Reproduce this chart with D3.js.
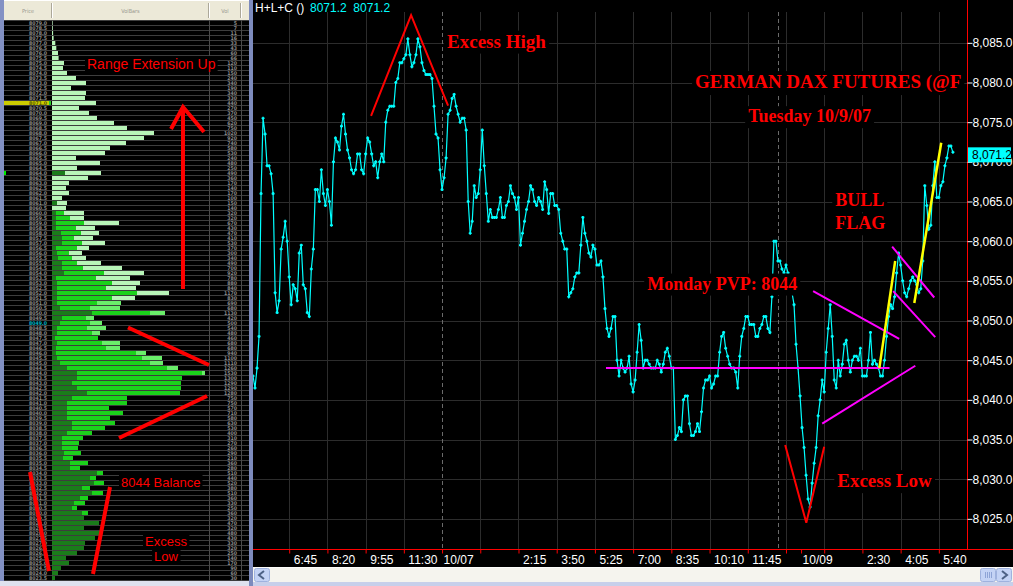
<!DOCTYPE html>
<html><head><meta charset="utf-8">
<script src="https://cdn.jsdelivr.net/npm/d3@7"></script>
<style>html,body{margin:0;padding:0;background:#000;overflow:hidden}svg{display:block}</style>
</head><body><svg id="chart" width="1013" height="586"></svg>
<script>
// ================= DATA =================
// 5-minute bar closes (bar index = array index)
const prices = [
8043,8041.5,8044,8048,8066,8075.5,8073.5,8069.5,8069.5,8068.5,
8066,8053.5,8051,8052.5,8059,8060.5,8062.5,8060,8055.5,8052,
8054.5,8054,8052.5,8058.5,8059.5,8054.5,8054,8051,8050.5,8056.5,
8059,8066.5,8066.5,8065,8069,8066,8064.5,8066.5,8065,8062,
8070,8073,8072.5,8071.5,8074.5,8076,8073.5,8071.5,8070.5,8069,
8068.5,8069,8071,8071,8069,8068.5,8071,8073,8072.5,8071,
8069.5,8070,8068,8070,8071,8070,8075,8076.5,8077,8077,
8077,8080,8080.5,8082.5,8082.5,8083,8083.5,8085.5,8083.5,8082,
8082.5,8083.5,8085.5,8084.5,8082.5,8081.5,8081,8081,8081,8080.5,
8077,8073.5,8073,8069,8066.5,8068,8070.5,8076,8076.5,8078,
8078.5,8077,8076,8075,8075.5,8075.5,8074,8065,8061,8062.5,
8067,8065.5,8066,8069,8074,8069.5,8066,8062.5,8064,8063,
8063,8063,8064,8065.5,8063,8063,8064.5,8065,8067,8066,
8065.5,8064,8065.5,8059.5,8061,8062.5,8064,8065,8067,8066.5,
8065,8064.5,8065.5,8065,8064,8067.5,8066.5,8063.5,8066,8066,
8064.5,8064.5,8064,8061,8060,8059,8059,8053,8053.5,8054,
8055.5,8056,8056,8059.5,8063,8061,8060,8058.5,8058,8059.5,
8059,8057,8057,8057.5,8055.5,8051.5,8049,8048,8049,8050.5,
8050.5,8045,8043,8045,8044,8043.5,8044,8045.5,8042,8041,
8042.5,8046,8049.5,8047.5,8044,8045,8045,8044.5,8044,8044,
8044,8045,8044.5,8043.5,8044.5,8046,8046.5,8045.5,8044,8044,
8035,8035.5,8036.5,8036,8040,8040.5,8040.5,8037,8035.5,8035.5,
8036,8037,8036,8038.5,8041.5,8042.5,8042.5,8043,8041.5,8042,
8043,8043,8046,8048,8048.5,8046.5,8045.5,8044.5,8044,8044,
8043.5,8041.5,8045.5,8048,8049,8050.5,8050.5,8049.5,8049.5,8049.5,
8048,8048,8049,8049.5,8050.5,8050.5,8049,8048.5,8053,8060,
8060,8057.5,8057.5,8056.5,8056,8057,8056,8055,8053.5,8052,
8047,8044,8040.5,8036.5,8034,8030.5,8027.5,8026.5,8029.5,8032,
8034,8038,8040,8042.5,8041,8046,8049,8052,8048,8042.5,
8041.5,8045,8043,8044.5,8047,8047.5,8045,8043.5,8045,8045.5,
8045.5,8045,8046.5,8043,8043,8043,8045,8048.5,8044.5,8045,
8044.5,8044,8043,8043,8045,8048,8050.5,8052,8051.5,8053,
8056,8058.5,8057,8055,8053.5,8053,8054,8055,8055.5,8055,
8054.5,8053.5,8054,8057.5,8067,8064.5,8061.5,8062,8067,8070,
8065.5,8065.5,8067,8067.5,8069.5,8070.5,8072,8072,8071.2
];
const yTicks = [8025,8030,8035,8040,8045,8050,8055,8060,8065,8070,8075,8080,8085];
const xTickBars   = [18,37,56,75,94,113,132,151,170,189,208,227,246,265,272.5,284,303,322,341];
const xTickLabels = ["6:45","8:20","9:55","11:30","10/07","","2:15","3:50","5:25","7:00","8:35","10:10","11:45","","10/09","","2:30","4:05","5:40"];
const sessionBreaks = [94, 261];
const dateLabels = ["10/07","10/09"];

// annotation geometry in data coordinates [bar, price]
const excessHighV = [[58.7,8075.8],[78.6,8088.5],[97,8077.1]];
const excessLowV  = [[264.6,8034.3],[275.1,8024.5],[284,8034.1]];
const pvpLine     = [[175.5,8044],[316.5,8044]];
const channelUp   = [[278.5,8053.7],[321.3,8047.7]];
const channelDown = [[283,8037.0],[329.3,8044.3]];
const flagUpper   = [[317.8,8059.3],[338.7,8052.9]];
const flagLower   = [[318.3,8053.7],[339.2,8047.9]];
const pole1       = [[311.4,8044],[319.3,8057.5]];
const pole2       = [[328.8,8052.2],[342.2,8072.4]];
const noteTexts  = ["Excess High","GERMAN DAX FUTURES (@F","Tuesday 10/9/07","BULL","FLAG","Monday PVP: 8044","Excess Low"];
const noteBars   = [96.5,219.8,246.2,289.5,289.5,196,290.5];
const notePrices = [8084.4,8079.3,8075.0,8064.4,8061.5,8053.9,8029.0];

// volume profile (rows from top, 0.5 pt each), three period segments
const profileTopPrice = 8079.0, profileStep = 0.5;
const volDark = [
0,0,0,0,0,0,0,0,0,0, 0,0,0,0,0,0,0,0,0,0, 0,0,0,0,0,0,0,0,0,0,
130,0,0,0,0,0,50,0,40,40, 40,40,90,100,100,40,50,60,100,100,
120,40,50,50,50,50,50,80,400,100, 80,50,50,30,50,40,40,50,80,150,
250,250,200,250,350,200,150,150,150,150, 200,200,150,100,100,100,120,110,180,180,
450,380,420,300,400,280,220,200,300,320, 470,320,480,430,330,320,250,140,170,90,60,30];
const volGreen = [
0,0,0,0,0,0,0,0,0,0, 0,0,0,0,0,0,0,0,0,0, 0,0,0,0,0,0,0,0,0,0,
0,0,0,0,0,0,0,0,80,140, 280,200,200,120,200,210,120,140,150,210,
400,400,550,490,800,550,400,300,580,240, 300,300,350,430,450,500,800,850,900,1000,
1250,1050,1090,1040,930,550,600,420,560,430, 430,330,250,210,170,160,170,100,180,100,
60,60,100,80,110,80,110,50,60,0, 0,0,0,0,0,0,0,0,0,0,0,0];
const volPale = [
5,7,11,16,33,43,60,66,120,110, 150,240,340,190,340,330,440,270,370,450,
620,750,1020,920,740,580,530,240,480,250,
360,360,170,140,170,100,100,140,200,140, 350,190,180,190,230,120,130,140,240,390,
400,340,280,300,320,230,240,300,150,80, 120,190,80,0,180,140,100,200,130,110,
30,0,0,0,0,0,0,0,0,0, 0,0,0,0,0,0,0,0,0,0,
0,0,0,0,0,0,0,0,0,0, 0,0,0,0,0,0,0,0,0,0,0,0];
const currentRow = 16, markedRow = 60, greenDotRow = 30;
const headerLabels = ["Price","VolBars","Vol"];
// left-panel annotations in (volume, row) coordinates
const arrowShaft = [[1310,53.6],[1310,17.4]];
const arrowHead  = [[1190,21.6],[1310,17.2],[1520,22.2]];
const wedgeTop   = [[760,61.3],[1570,68.8]];
const wedgeBot   = [[670,83.4],[1550,75.0]];
const lowLeft    = [[-220,90.2],[-30,110.0]];
const lowRight   = [[580,93.2],[410,110.6]];
const profileNotes = ["Range Extension Up","8044 Balance","Excess","Low"];
const profileNoteVol = [350,690,1140,1140];
const profileNoteRow = [9.6,93.2,105,108];

// ================= DRAW =================
const svg = d3.select("#chart");
svg.append("rect").attr("width",1013).attr("height",586).attr("fill","#000");

// ---------- LEFT PANEL ----------
const nRows = volDark.length;
const rowY = d3.scaleLinear().domain([0,nRows]).range([21,21+5*nRows]);
const volX = d3.scaleLinear().domain([0,1570]).range([52,209]);
const L = svg.append("g");
L.append("rect").attr("x",0).attr("y",0).attr("width",4).attr("height",586).attr("fill","#8391c4");
L.append("rect").attr("x",4).attr("y",0).attr("width",245).attr("height",20).attr("fill","#ece9d8");
L.append("line").attr("x1",4).attr("x2",249).attr("y1",0.5).attr("y2",0.5).attr("stroke","#fff");
[volX(0),volX(1570),241].forEach(px=>{
  L.append("line").attr("x1",px-0.5).attr("x2",px-0.5).attr("y1",3).attr("y2",18).attr("stroke","#aca899");
  L.append("line").attr("x1",px+0.5).attr("x2",px+0.5).attr("y1",3).attr("y2",18).attr("stroke","#fff");
});
const headerX = [(4+volX(0))/2,(volX(0)+volX(1570))/2,(volX(1570)+241)/2];
L.selectAll("text.hdr").data(headerLabels).join("text").attr("class","hdr")
  .attr("x",(d,i)=>headerX[i]).attr("y",12.5).attr("text-anchor","middle")
  .attr("font-family","DejaVu Sans Condensed, DejaVu Sans").attr("font-size",5.5)
  .attr("fill","#9a9a90").text(d=>d);

// row separators
L.selectAll("line.row").data(d3.range(nRows+1)).join("line").attr("class","row")
  .attr("x1",4).attr("x2",249).attr("y1",k=>rowY(k)-0.5).attr("y2",k=>rowY(k)-0.5)
  .attr("stroke","#3d3d3d");
[volX(0),volX(1570),241].forEach(px=>{
  L.append("line").attr("x1",px+0.5).attr("x2",px+0.5).attr("y1",20).attr("y2",rowY(nRows))
   .attr("stroke","#4a4a4a");
});

// stacked profile bars
const segColors = ["#1a7c1a","#1bd21b","#b8f5b8"];
const lateLight = "#6aee6a";
const profileRows = d3.range(nRows).map(k=>({k,dark:volDark[k],green:volGreen[k],pale:volPale[k]}));
const stack = d3.stack().keys(["dark","green","pale"])(profileRows);
L.selectAll("g.seg").data(stack).join("g").attr("class","seg")
  .each(function(layer,i){
    d3.select(this).selectAll("rect").data(layer.filter(s=>s[1]>s[0])).join("rect")
      .attr("x",s=>volX(s[0])).attr("width",s=>volX(s[1])-volX(s[0]))
      .attr("y",s=>rowY(s.data.k)).attr("height",4)
      .attr("fill",s=>(i===2 && s.data.k>=56)?lateLight:segColors[i]);
  });

// current price row highlight
L.append("rect").attr("x",4).attr("y",rowY(currentRow)).attr("width",volX(0)-7).attr("height",4).attr("fill","#cccc00");
L.append("rect").attr("x",volX(0)-3).attr("y",rowY(currentRow)).attr("width",2).attr("height",4).attr("fill","#22cc22");
L.append("rect").attr("x",4).attr("y",rowY(greenDotRow)).attr("width",2).attr("height",4).attr("fill","#00ee00");

const fmt1 = d3.format(".1f");
L.selectAll("text.pr").data(d3.range(nRows)).join("text").attr("class","pr")
  .attr("x",47).attr("y",k=>rowY(k)+4).attr("text-anchor","end")
  .attr("font-family","DejaVu Sans Condensed, DejaVu Sans").attr("font-size",5.2).attr("font-weight","bold")
  .attr("fill",k=>k===markedRow?"#00b4c8":(k===currentRow?"#5a5a00":"#8c8c8c"))
  .text(k=>fmt1(profileTopPrice-profileStep*k));
L.selectAll("text.vo").data(profileRows).join("text").attr("class","vo")
  .attr("x",237).attr("y",d=>rowY(d.k)+4).attr("text-anchor","end")
  .attr("font-family","DejaVu Sans Condensed, DejaVu Sans").attr("font-size",5.2).attr("font-weight","bold")
  .attr("fill","#8c8c8c").text(d=>d.dark+d.green+d.pale);

// left annotations
const pl = d3.line().x(d=>volX(d[0])).y(d=>rowY(d[1]));
[arrowShaft,arrowHead,wedgeTop,wedgeBot,lowLeft,lowRight].forEach(g=>{
  L.append("path").attr("d",pl(g)).attr("fill","none").attr("stroke","#ff0000").attr("stroke-width",4).attr("stroke-linejoin","miter");
});
profileNotes.forEach((t,i)=>{
  const tx = L.append("text").attr("x",volX(profileNoteVol[i])).attr("y",rowY(profileNoteRow[i]))
    .attr("text-anchor",i>=2?"middle":"start")
    .attr("font-family","Liberation Sans, Arial").attr("font-size",i===0?14:13)
    .attr("fill","#ff0000").text(t);
  const b = tx.node().getBBox();
  L.insert("rect",()=>tx.node()).attr("x",b.x-2).attr("y",b.y).attr("width",b.width+4).attr("height",b.height).attr("fill","#000");
});

// right border of panel / bottom
L.append("rect").attr("x",0).attr("y",581).attr("width",253).attr("height",5).attr("fill","#dfe2ee");
svg.append("rect").attr("x",249).attr("y",0).attr("width",4).attr("height",586).attr("fill","#7d8bbd");

// ---------- MAIN CHART ----------
const x = d3.scaleLinear().domain([0,355]).range([253,967]);
const y = d3.scaleLinear().domain([8021.2,8090.4]).range([549,0]);
const M = svg.append("g");
svg.append("defs").append("clipPath").attr("id","plot").append("rect")
  .attr("x",253).attr("y",0).attr("width",714).attr("height",549);

const gridBars = xTickBars.filter((b,i)=>!dateLabels.includes(xTickLabels[i]));
M.selectAll("line.vg").data(gridBars).join("line").attr("class","vg")
  .attr("x1",d=>Math.round(x(d))+0.5).attr("x2",d=>Math.round(x(d))+0.5).attr("y1",12).attr("y2",549)
  .attr("stroke","#2c2c2c");
M.selectAll("line.hg").data(yTicks).join("line").attr("class","hg")
  .attr("x1",253).attr("x2",967).attr("y1",d=>Math.round(y(d))+0.5).attr("y2",d=>Math.round(y(d))+0.5)
  .attr("stroke","#2c2c2c");
M.selectAll("line.sb").data(sessionBreaks).join("line").attr("class","sb")
  .attr("x1",d=>Math.round(x(d))+0.5).attr("x2",d=>Math.round(x(d))+0.5).attr("y1",12).attr("y2",549)
  .attr("stroke","#6a6a6a").attr("stroke-dasharray","4,3");

const P = M.append("g").attr("clip-path","url(#plot)");
const series = prices.map((p,i)=>({bar:i,price:p}));
const dl = d3.line().x(d=>x(d[0])).y(d=>y(d[1]));

const line = d3.line().x(d=>x(d.bar)).y(d=>y(d.price));
P.append("path").datum(series).attr("d",line).attr("fill","none").attr("stroke","#00ffff").attr("stroke-width",1.2);
P.selectAll("path.mk").data(series).join("path").attr("class","mk")
  .attr("transform",d=>`translate(${x(d.bar)},${y(d.price)})`)
  .attr("d","M-1.5,0H1.5M0,-1.5V1.5").attr("stroke","#00ffff").attr("stroke-width",1.6);

[excessHighV,excessLowV].forEach(g=>P.append("path").attr("d",dl(g)).attr("fill","none").attr("stroke","#ff0000").attr("stroke-width",2));
[pvpLine,channelUp,channelDown,flagUpper,flagLower].forEach(g=>P.append("path").attr("d",dl(g)).attr("fill","none").attr("stroke","#ff00ff").attr("stroke-width",2));
[pole1,pole2].forEach(g=>P.append("path").attr("d",dl(g)).attr("fill","none").attr("stroke","#ffff00").attr("stroke-width",2.5));

// annotation texts on black boxes (drawn over the series)
noteTexts.forEach((t,i)=>{
  const big = (t.startsWith("Excess")||t.startsWith("GERMAN"));
  const tx = P.append("text").attr("x",x(noteBars[i])).attr("y",y(notePrices[i]))
    .attr("font-family","Liberation Serif, Times New Roman, serif").attr("font-weight","bold")
    .attr("font-size",big?19:18).attr("fill","#ff0000").text(t);
  const b = tx.node().getBBox();
  P.insert("rect",()=>tx.node()).attr("x",b.x-3).attr("y",b.y).attr("width",b.width+6).attr("height",b.height+2).attr("fill","#000");
});

// axes frame
M.append("line").attr("x1",967.5).attr("x2",967.5).attr("y1",0).attr("y2",549).attr("stroke","#ff0000");
M.append("line").attr("x1",253).attr("x2",1013).attr("y1",549.5).attr("y2",549.5).attr("stroke","#ff0000");

const yAxis = M.append("g").attr("transform","translate(967.5,0)")
  .call(d3.axisRight(y).tickValues(yTicks).tickFormat(d3.format(",.1f")).tickSize(5).tickPadding(0));
yAxis.select(".domain").remove();
yAxis.selectAll("line").attr("stroke","#fff");
yAxis.selectAll("text").attr("fill","#fff").attr("font-family","Liberation Sans, Arial").attr("font-size",12);

const xAxis = M.append("g").attr("transform","translate(0,549.5)")
  .call(d3.axisBottom(x).tickValues(xTickBars).tickFormat((d,i)=>xTickLabels[i]).tickSize(4).tickPadding(2));
xAxis.select(".domain").remove();
xAxis.selectAll("line").attr("stroke","#ff0000");
xAxis.selectAll("text").attr("fill","#fff").attr("font-family","Liberation Sans, Arial").attr("font-size",12)
  .attr("text-anchor","start").attr("x",(d,i)=>dateLabels.includes(xTickLabels[i])?1:4);

// last price box
const last = prices[prices.length-1];
const ly = y(last);
M.append("rect").attr("x",968).attr("y",ly-5).attr("width",43).attr("height",15).attr("fill","#00ffff");
M.append("text").attr("x",972).attr("y",ly+7).attr("font-family","Liberation Sans, Arial").attr("font-size",12)
  .attr("fill","#000").text(d3.format(",.1f")(last));

// header
M.append("text").attr("x",255).attr("y",12).attr("font-family","Liberation Sans, Arial").attr("font-size",12).attr("fill","#fff").text("H+L+C ()");
M.append("text").attr("x",310).attr("y",12).attr("font-family","Liberation Sans, Arial").attr("font-size",12).attr("fill","#00ffff")
  .attr("xml:space","preserve").text(fmt1(last)+"  "+fmt1(last));

// scrollbar
const S = svg.append("g");
S.append("rect").attr("x",253).attr("y",567).attr("width",760).attr("height",15).attr("fill","#f5f4ee");
S.append("line").attr("x1",253).attr("x2",1013).attr("y1",567.5).attr("y2",567.5).attr("stroke","#fdfdfb");
const btn=(bx,w)=>S.append("rect").attr("x",bx).attr("y",568.5).attr("width",w).attr("height",13).attr("rx",2)
  .attr("fill","#c4d3f5").attr("stroke","#9fb2de");
btn(254.5,15); btn(980.5,15); btn(996.5,15);
S.append("path").attr("d","M264,571L259,575L264,579").attr("fill","none").attr("stroke","#4d6185").attr("stroke-width",2);
S.append("path").attr("d","M1002,571L1007,575L1002,579").attr("fill","none").attr("stroke","#4d6185").attr("stroke-width",2);
[985.5,987.5,989.5,991.5].forEach(px=>S.append("line").attr("x1",px).attr("x2",px).attr("y1",572).attr("y2",578).attr("stroke","#8ea4d6"));
S.append("rect").attr("x",253).attr("y",582).attr("width",760).attr("height",4).attr("fill","#c7cfea");
</script></body></html>
